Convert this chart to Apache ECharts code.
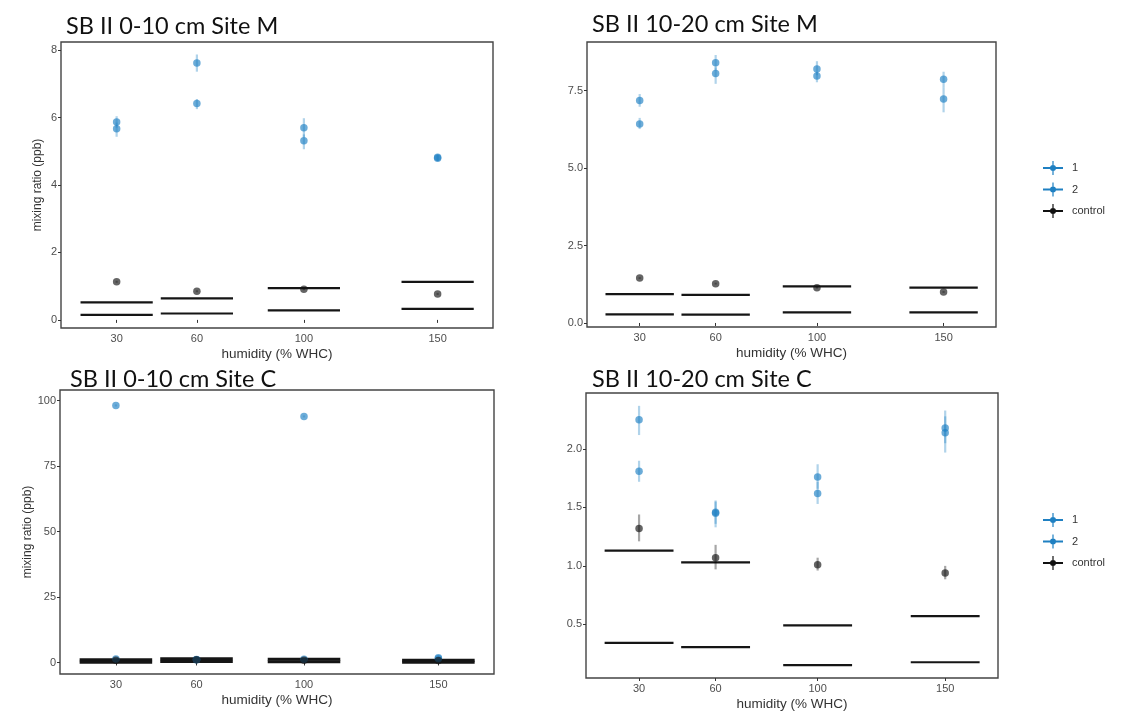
<!DOCTYPE html>
<html>
<head>
<meta charset="utf-8">
<script src="https://cdn.jsdelivr.net/npm/echarts@6/dist/echarts.min.js"></script>
<style>
html,body{margin:0;padding:0;background:#fff;}
#chart{width:1134px;height:712px;}
</style>
</head>
<body>
<div id="chart"></div>
<script>
// ---------- data ----------
const humidity = [30, 60, 100, 150];
const xTicks = [30, 60, 100, 150];
const panelTitles = ['SB II 0-10 cm Site M', 'SB II 10-20 cm Site M', 'SB II 0-10 cm Site C', 'SB II 10-20 cm Site C'];
const seriesNames = ['1', '2', 'control'];
const xAxisTitle = 'humidity (% WHC)';
const yAxisTitle = 'mixing ratio (ppb)';

// Panel 1: 0-10 cm Site M
const m010_s1 = [5.87, 7.62, 5.70, 4.82];
const m010_s1_err = [[5.70, 6.04], [7.36, 7.87], [5.42, 5.98], [4.72, 4.92]];
const m010_s2 = [5.67, 6.42, 5.31, 4.79];
const m010_s2_err = [[5.43, 5.85], [6.25, 6.55], [5.06, 5.50], [4.70, 4.88]];
const m010_ctrl = [1.13, 0.85, 0.91, 0.77];
const m010_ctrl_err = [[1.10, 1.16], [0.82, 0.88], [0.88, 0.94], [0.74, 0.80]];
const m010_upper = [0.52, 0.64, 0.94, 1.13];
const m010_lower = [0.15, 0.19, 0.28, 0.33];
const m010_yTicks = [0, 2, 4, 6, 8];

// Panel 2: 10-20 cm Site M
const m1020_s1 = [7.18, 8.40, 8.20, 7.87];
const m1020_s1_err = [[6.98, 7.39], [8.15, 8.65], [8.00, 8.45], [7.60, 8.11]];
const m1020_s2 = [6.42, 8.05, 7.97, 7.23];
const m1020_s2_err = [[6.26, 6.62], [7.72, 8.25], [7.77, 8.10], [6.80, 7.60]];
const m1020_ctrl = [1.45, 1.27, 1.14, 1.00];
const m1020_ctrl_err = [[1.42, 1.48], [1.24, 1.30], [1.11, 1.17], [0.97, 1.03]];
const m1020_upper = [0.93, 0.91, 1.18, 1.14];
const m1020_lower = [0.28, 0.27, 0.34, 0.34];
const m1020_yTicks = [0, 2.5, 5, 7.5];

// Panel 3: 0-10 cm Site C
const c010_s1 = [98.2, 1.1, 94.0, 1.8];
const c010_s1_err = [[97.8, 98.6], [0.9, 1.3], [93.6, 94.4], [1.5, 2.1]];
const c010_s2 = [1.3, 1.0, 1.2, 1.4];
const c010_s2_err = [[1.1, 1.5], [0.8, 1.2], [1.0, 1.4], [1.2, 1.6]];
const c010_ctrl = [0.9, 1.0, 0.9, 0.8];
const c010_ctrl_err = [[0.8, 1.0], [0.9, 1.1], [0.8, 1.0], [0.7, 0.9]];
const c010_upper = [1.0, 1.4, 1.2, 0.9];
const c010_lower = [0.1, 0.4, 0.3, 0.1];
const c010_yTicks = [0, 25, 50, 75, 100];

// Panel 4: 10-20 cm Site C
const c1020_s1 = [2.25, 1.46, 1.76, 2.18];
const c1020_s1_err = [[2.12, 2.37], [1.36, 1.56], [1.66, 1.87], [2.05, 2.33]];
const c1020_s2 = [1.81, 1.45, 1.62, 2.14];
const c1020_s2_err = [[1.72, 1.90], [1.33, 1.55], [1.53, 1.72], [1.97, 2.28]];
const c1020_ctrl = [1.32, 1.07, 1.01, 0.94];
const c1020_ctrl_err = [[1.21, 1.44], [0.97, 1.18], [0.96, 1.07], [0.885, 1.00]];
const c1020_upper = [1.13, 1.03, 0.49, 0.57];
const c1020_lower = [0.34, 0.305, 0.15, 0.175];
const c1020_yTicks = [0.5, 1.0, 1.5, 2.0];

// ---------- layout / style (not data) ----------
const panels = [
  {s1: m010_s1, s1e: m010_s1_err, s2: m010_s2, s2e: m010_s2_err, c: m010_ctrl, ce: m010_ctrl_err,
   up: m010_upper, lo: m010_lower, yTicks: m010_yTicks, yMin: -0.24, yMax: 8.24, dec: 0,
   grid: {left: 61, top: 42, width: 432, height: 286}, title: {left: 61, top: 9}, yNameGap: 17, legend: false, lw: 2.2},
  {s1: m1020_s1, s1e: m1020_s1_err, s2: m1020_s2, s2e: m1020_s2_err, c: m1020_ctrl, ce: m1020_ctrl_err,
   up: m1020_upper, lo: m1020_lower, yTicks: m1020_yTicks, yMin: -0.13, yMax: 9.07, dec: 1,
   grid: {left: 587, top: 42, width: 409, height: 285}, title: {left: 587, top: 7}, yNameGap: 0, legend: {left: 1038, top: 156}, lw: 2.2},
  {s1: c010_s1, s1e: c010_s1_err, s2: c010_s2, s2e: c010_s2_err, c: c010_ctrl, ce: c010_ctrl_err,
   up: c010_upper, lo: c010_lower, yTicks: c010_yTicks, yMin: -4.4, yMax: 104.1, dec: 0,
   grid: {left: 60, top: 390, width: 434, height: 284}, title: {left: 65, top: 362}, yNameGap: 24, legend: false, lw: 3},
  {s1: c1020_s1, s1e: c1020_s1_err, s2: c1020_s2, s2e: c1020_s2_err, c: c1020_ctrl, ce: c1020_ctrl_err,
   up: c1020_upper, lo: c1020_lower, yTicks: c1020_yTicks, yMin: 0.04, yMax: 2.48, dec: 1,
   grid: {left: 586, top: 393, width: 412, height: 288}, title: {left: 587, top: 362}, yNameGap: 0, legend: {left: 1038, top: 508}, lw: 2.2}
];

const HALF = 13.5;      // half-width of the reference lines in x units
const X_MIN = 9.2, X_MAX = 170.7;
const BLUE = 'rgba(30,128,196,0.82)';
const BLUE_ERR = 'rgba(30,128,196,0.35)';
const DARK = 'rgba(20,20,20,0.82)';
const DARK_ERR = 'rgba(0,0,0,0.35)';
const LEGEND_BLUE = '#1f80c2';
const axisFont = 'Liberation Sans, Arial, sans-serif';
const iconPath = 'path://M0,6H20V8H0Z M9.4,0H10.6V14H9.4Z M13,7A3,3,0,1,1,7,7A3,3,0,1,1,13,7Z';

function errRender(color) {
  return function (params, api) {
    const x = api.value(0), lo = api.value(1), hi = api.value(2);
    const p1 = api.coord([x, lo]), p2 = api.coord([x, hi]);
    return {type: 'line', shape: {x1: p1[0], y1: p1[1], x2: p2[0], y2: p2[1]},
            style: {stroke: color, lineWidth: 2.2}};
  };
}
function hlineRender(lw) {
  return function (params, api) {
    const x = api.value(0), y = api.value(1);
    const p1 = api.coord([x - HALF, y]), p2 = api.coord([x + HALF, y]);
    return {type: 'line', shape: {x1: p1[0], y1: p1[1], x2: p2[0], y2: p2[1]},
            style: {stroke: '#151515', lineWidth: lw}};
  };
}
const pairs = (vals) => humidity.map((h, i) => [h, vals[i]]);
const errs = (e) => humidity.map((h, i) => [h, e[i][0], e[i][1]]);

const option = {
  animation: false,
  backgroundColor: '#fff',
  title: [], grid: [], xAxis: [], yAxis: [], series: [], legend: []
};

panels.forEach((p, k) => {
  option.title.push({text: panelTitles[k], left: p.title.left, top: p.title.top,
    textStyle: {fontFamily: 'Lato, Open Sans, sans-serif', fontSize: 23.5, fontWeight: 'normal', color: '#111'}});
  option.grid.push(Object.assign({show: true, borderColor: '#444', borderWidth: 1.4, backgroundColor: 'transparent', containLabel: false}, p.grid));
  option.xAxis.push({type: 'value', gridIndex: k, min: X_MIN, max: X_MAX,
    name: xAxisTitle, nameLocation: 'middle', nameGap: 19,
    nameTextStyle: {fontFamily: axisFont, fontSize: 13.5, color: '#333'},
    axisLine: {show: false}, splitLine: {show: false},
    axisTick: {show: true, length: 3, customValues: xTicks, lineStyle: {color: '#333'}},
    axisLabel: {show: true, customValues: xTicks, fontFamily: axisFont, fontSize: 11, color: '#4d4d4d', margin: 5}});
  option.yAxis.push({type: 'value', gridIndex: k, min: p.yMin, max: p.yMax,
    name: p.yNameGap ? yAxisTitle : '', nameLocation: 'middle', nameGap: p.yNameGap || 20,
    nameTextStyle: {fontFamily: axisFont, fontSize: 12, color: '#333'},
    axisLine: {show: false}, splitLine: {show: false},
    axisTick: {show: true, length: 3, customValues: p.yTicks, lineStyle: {color: '#333'}},
    axisLabel: {show: true, customValues: p.yTicks, fontFamily: axisFont, fontSize: 11, color: '#4d4d4d', margin: 4,
      formatter: (v) => Number(v).toFixed(p.dec)}});

  // reference lines
  option.series.push({type: 'custom', name: 'upper', xAxisIndex: k, yAxisIndex: k, renderItem: hlineRender(p.lw), data: pairs(p.up), z: 2});
  option.series.push({type: 'custom', name: 'lower', xAxisIndex: k, yAxisIndex: k, renderItem: hlineRender(p.lw), data: pairs(p.lo), z: 2});
  // error bars
  option.series.push({type: 'custom', name: '1', xAxisIndex: k, yAxisIndex: k, renderItem: errRender(BLUE_ERR), data: errs(p.s1e), itemStyle: {color: LEGEND_BLUE}, z: 3});
  option.series.push({type: 'custom', name: '2', xAxisIndex: k, yAxisIndex: k, renderItem: errRender(BLUE_ERR), data: errs(p.s2e), itemStyle: {color: LEGEND_BLUE}, z: 3});
  option.series.push({type: 'custom', name: 'control', xAxisIndex: k, yAxisIndex: k, renderItem: errRender(DARK_ERR), data: errs(p.ce), itemStyle: {color: '#111'}, z: 3});
  // points
  option.series.push({type: 'scatter', name: '1', xAxisIndex: k, yAxisIndex: k, data: pairs(p.s1), symbolSize: 7.5, itemStyle: {color: BLUE}, z: 4});
  option.series.push({type: 'scatter', name: '2', xAxisIndex: k, yAxisIndex: k, data: pairs(p.s2), symbolSize: 7.5, itemStyle: {color: BLUE}, z: 4});
  option.series.push({type: 'scatter', name: 'control', xAxisIndex: k, yAxisIndex: k, data: pairs(p.c), symbolSize: 7.5, itemStyle: {color: DARK}, z: 4});

  if (p.legend) {
    option.legend.push({left: p.legend.left, top: p.legend.top, orient: 'vertical', itemWidth: 20, itemHeight: 14, itemGap: 7.5,
      selectedMode: false,
      textStyle: {fontFamily: axisFont, fontSize: 11, color: '#333', padding: [0, 0, 0, 4]},
      data: [
        {name: seriesNames[0], icon: iconPath, itemStyle: {color: LEGEND_BLUE}},
        {name: seriesNames[1], icon: iconPath, itemStyle: {color: LEGEND_BLUE}},
        {name: seriesNames[2], icon: iconPath, itemStyle: {color: '#111'}}
      ]});
  }
});

const chart = echarts.init(document.getElementById('chart'), null, {renderer: 'canvas'});
chart.setOption(option);
</script>
</body>
</html>
